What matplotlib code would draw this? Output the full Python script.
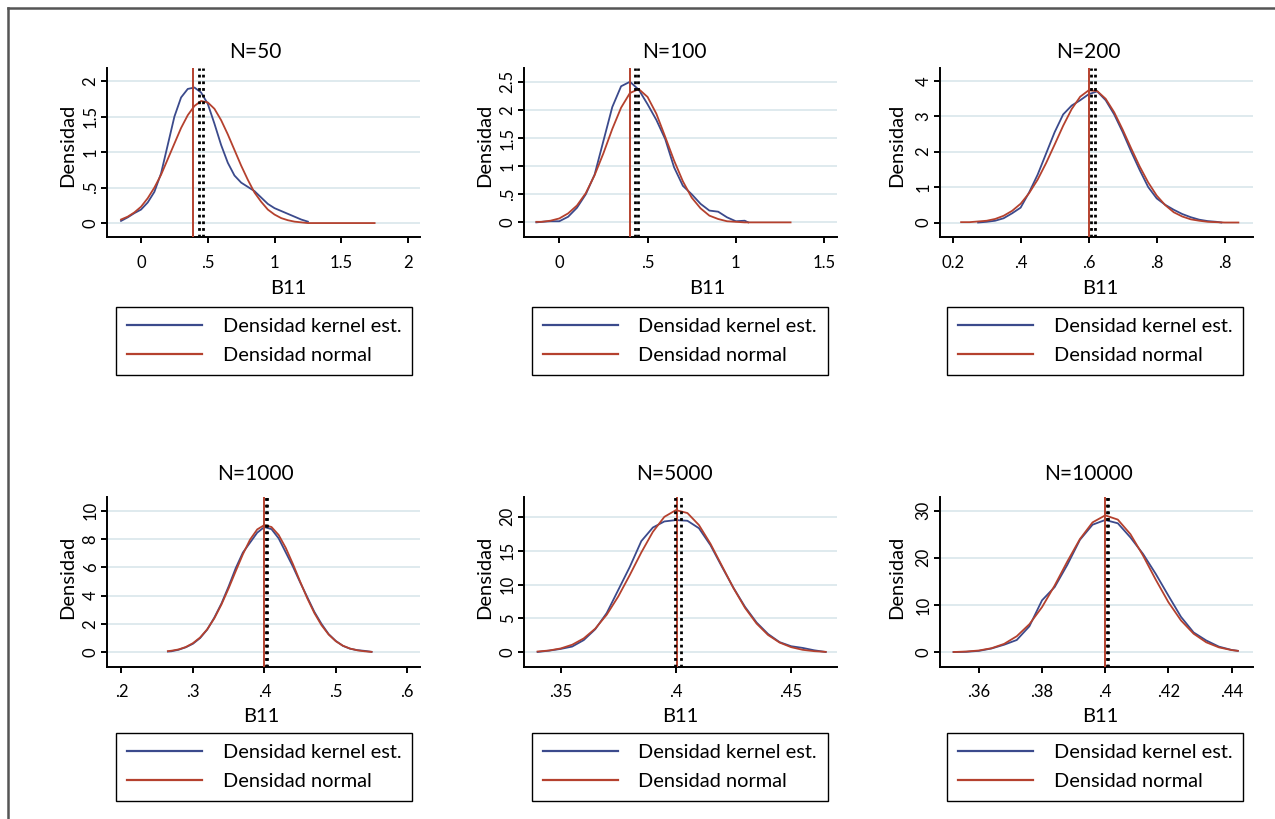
import numpy as np
import matplotlib
matplotlib.use('Agg')
import matplotlib.pyplot as plt
from matplotlib.lines import Line2D

# Kernel density and normal density of B11 for six sample sizes
titles = ['N=50', 'N=100', 'N=200', 'N=1000', 'N=5000', 'N=10000']
legend_labels = ['Densidad kernel est.', 'Densidad normal']

# N=50
x50_k = [-0.15, -0.10, -0.05, 0.00, 0.05, 0.10, 0.15, 0.20, 0.25, 0.30, 0.35, 0.40, 0.45, 0.50, 0.55,
         0.60, 0.65, 0.70, 0.75, 0.80, 0.85, 0.90, 0.95, 1.00, 1.05, 1.10, 1.15, 1.20, 1.25]
k50 = [0.03, 0.08, 0.14, 0.19, 0.29, 0.44, 0.70, 1.10, 1.50, 1.77, 1.89, 1.91, 1.84, 1.68, 1.40,
       1.10, 0.85, 0.67, 0.57, 0.51, 0.45, 0.36, 0.27, 0.21, 0.17, 0.13, 0.09, 0.05, 0.02]
x50_n = [-0.15, -0.10, -0.05, 0.00, 0.05, 0.10, 0.15, 0.20, 0.25, 0.30, 0.35, 0.40, 0.45, 0.50, 0.55,
         0.60, 0.65, 0.70, 0.75, 0.80, 0.85, 0.90, 0.95, 1.00, 1.05, 1.10, 1.15, 1.20, 1.25, 1.50, 1.75]
n50 = [0.05, 0.09, 0.15, 0.23, 0.35, 0.50, 0.68, 0.90, 1.12, 1.34, 1.52, 1.65, 1.72, 1.70, 1.61,
       1.45, 1.25, 1.03, 0.81, 0.61, 0.43, 0.30, 0.19, 0.12, 0.07, 0.04, 0.02, 0.01, 0.00, 0.00, 0.00]

# N=100
x100_k = [-0.13, -0.10, -0.05, 0.00, 0.05, 0.10, 0.15, 0.20, 0.25, 0.30, 0.35, 0.40, 0.45, 0.50,
          0.55, 0.60, 0.65, 0.70, 0.75, 0.80, 0.85, 0.90, 0.95, 1.00, 1.05, 1.07]
k100 = [0.00, 0.01, 0.02, 0.02, 0.10, 0.26, 0.50, 0.85, 1.45, 2.05, 2.42, 2.50, 2.36, 2.10,
        1.82, 1.48, 0.98, 0.65, 0.50, 0.33, 0.21, 0.19, 0.09, 0.02, 0.03, 0.00]
x100_n = [-0.13, -0.10, -0.05, 0.00, 0.05, 0.10, 0.15, 0.20, 0.25, 0.30, 0.35, 0.40, 0.45, 0.50,
          0.55, 0.60, 0.65, 0.70, 0.75, 0.80, 0.85, 0.90, 0.95, 1.00, 1.05, 1.31]
n100 = [0.01, 0.01, 0.03, 0.07, 0.16, 0.30, 0.52, 0.84, 1.23, 1.66, 2.04, 2.30, 2.37, 2.23,
        1.93, 1.52, 1.10, 0.73, 0.44, 0.25, 0.12, 0.06, 0.02, 0.01, 0.00, 0.00]

# N=200
x200_k = [0.275, 0.300, 0.325, 0.350, 0.375, 0.400, 0.425, 0.450, 0.475, 0.500, 0.525, 0.550, 0.575,
          0.600, 0.625, 0.650, 0.675, 0.700, 0.725, 0.750, 0.775, 0.800, 0.825, 0.850, 0.875, 0.900,
          0.925, 0.950, 0.975, 0.990]
k200 = [0.00, 0.02, 0.05, 0.12, 0.26, 0.42, 0.85, 1.35, 1.95, 2.55, 3.05, 3.30, 3.45,
        3.62, 3.70, 3.45, 3.05, 2.55, 2.00, 1.48, 1.00, 0.68, 0.50, 0.36, 0.24, 0.15,
        0.08, 0.04, 0.02, 0.00]
x200_n = [0.225, 0.250, 0.275, 0.300, 0.325, 0.350, 0.375, 0.400, 0.425, 0.450, 0.475, 0.500, 0.525,
          0.550, 0.575, 0.600, 0.625, 0.650, 0.675, 0.700, 0.725, 0.750, 0.775, 0.800, 0.825, 0.850,
          0.875, 0.900, 0.925, 0.950, 0.975, 1.000, 1.040]
n200 = [0.01, 0.01, 0.03, 0.05, 0.10, 0.19, 0.33, 0.53, 0.83, 1.21, 1.68, 2.20, 2.73,
        3.20, 3.55, 3.73, 3.71, 3.49, 3.11, 2.62, 2.09, 1.58, 1.13, 0.76, 0.49, 0.29,
        0.17, 0.09, 0.05, 0.02, 0.01, 0.00, 0.00]

# N=1000
x1000 = [0.265, 0.27, 0.28, 0.29, 0.30, 0.31, 0.32, 0.33, 0.34, 0.35, 0.36, 0.37, 0.38, 0.39, 0.40,
         0.41, 0.42, 0.43, 0.44, 0.45, 0.46, 0.47, 0.48, 0.49, 0.50, 0.51, 0.52, 0.53, 0.54, 0.55]
k1000 = [0.05, 0.07, 0.18, 0.35, 0.60, 1.00, 1.60, 2.45, 3.45, 4.65, 5.95, 7.05, 7.75, 8.45, 8.85,
         8.70, 8.05, 7.05, 6.05, 4.95, 3.90, 2.85, 2.00, 1.28, 0.80, 0.45, 0.25, 0.15, 0.10, 0.03]
n1000 = [0.08, 0.11, 0.20, 0.37, 0.64, 1.04, 1.62, 2.40, 3.38, 4.52, 5.74, 6.93, 7.96, 8.68, 8.99,
         8.85, 8.29, 7.37, 6.23, 5.00, 3.82, 2.77, 1.91, 1.25, 0.78, 0.46, 0.26, 0.14, 0.07, 0.03]

# N=5000
x5000 = [0.340, 0.345, 0.350, 0.355, 0.360, 0.365, 0.370, 0.375, 0.380, 0.385, 0.390, 0.395, 0.400,
         0.405, 0.410, 0.415, 0.420, 0.425, 0.430, 0.435, 0.440, 0.445, 0.450, 0.455, 0.460, 0.465]
k5000 = [0.05, 0.25, 0.50, 0.85, 1.80, 3.40, 5.80, 9.20, 12.60, 16.40, 18.40, 19.30, 19.50,
         19.40, 18.30, 15.80, 12.60, 9.50, 6.70, 4.40, 2.70, 1.50, 0.90, 0.65, 0.30, 0.05]
n5000 = [0.12, 0.27, 0.57, 1.12, 2.05, 3.49, 5.55, 8.24, 11.40, 14.73, 17.76, 19.98, 20.97,
         20.54, 18.77, 16.01, 12.74, 9.46, 6.55, 4.24, 2.55, 1.44, 0.76, 0.37, 0.17, 0.07]

# N=10000
x10000 = [0.352, 0.356, 0.360, 0.364, 0.368, 0.372, 0.376, 0.380, 0.384, 0.388, 0.392, 0.396,
          0.400, 0.404, 0.408, 0.412, 0.416, 0.420, 0.424, 0.428, 0.432, 0.436, 0.440, 0.442]
k10000 = [0.05, 0.10, 0.30, 0.80, 1.60, 2.60, 5.50, 11.00, 13.80, 18.50, 23.80, 27.00,
          28.00, 27.30, 24.30, 20.80, 16.60, 12.00, 7.50, 4.20, 2.50, 1.20, 0.50, 0.30]
n10000 = [0.06, 0.16, 0.38, 0.86, 1.78, 3.40, 5.94, 9.56, 14.13, 19.20, 23.96, 27.49,
          28.98, 28.08, 24.99, 20.45, 15.38, 10.62, 6.74, 3.93, 2.11, 1.04, 0.47, 0.31]

# reference lines: true value (red) and the two dotted estimates
true_val = [0.39, 0.40, 0.60, 0.400, 0.4003, 0.4000]
dotted_val = [(0.435, 0.465), (0.428, 0.448), (0.606, 0.619), (0.402, 0.404), (0.3997, 0.4022), (0.4005, 0.4008)]

# axis ticks
xticks = [[0, 0.5, 1, 1.5, 2], [0, 0.5, 1, 1.5], [0.2, 0.4, 0.6, 0.8, 1.0],
          [0.2, 0.3, 0.4, 0.5, 0.6], [0.35, 0.40, 0.45], [0.36, 0.38, 0.40, 0.42, 0.44]]
xticklabels = [['0', '.5', '1', '1.5', '2'], ['0', '.5', '1', '1.5'], ['0.2', '.4', '.6', '.8', '.8'],
               ['.2', '.3', '.4', '.5', '.6'], ['.35', '.4', '.45'], ['.36', '.38', '.4', '.42', '.44']]
yticks = [[0, 0.5, 1, 1.5, 2], [0, 0.5, 1, 1.5, 2, 2.5], [0, 1, 2, 3, 4],
          [0, 2, 4, 6, 8, 10], [0, 5, 10, 15, 20], [0, 10, 20, 30]]
yticklabels = [['0', '.5', '1', '1.5', '2'], ['0', '.5', '1', '1.5', '2', '2.5'], ['0', '1', '2', '3', '4'],
               ['0', '2', '4', '6', '8', '10'], ['0', '5', '10', '15', '20'], ['0', '10', '20', '30']]
xlims = [(-0.255, 2.09), (-0.20, 1.573), (0.163, 1.083), (0.1798, 0.6178), (0.3341, 0.4699), (0.3477, 0.4468)]
ylims = [(-0.202, 2.185), (-0.267, 2.745), (-0.42, 4.36), (-1.02, 10.95), (-2.12, 22.86), (-3.05, 32.8)]

kde_x = [x50_k, x100_k, x200_k, x1000, x5000, x10000]
kde_y = [k50, k100, k200, k1000, k5000, k10000]
norm_x = [x50_n, x100_n, x200_n, x1000, x5000, x10000]
norm_y = [n50, n100, n200, n1000, n5000, n10000]

plt.rcParams['font.family'] = ['Lato', 'DejaVu Sans']

W, H = 1275, 819
fig = plt.figure(figsize=(W / 100, H / 100), dpi=100)


def fx(px):
    return px / W


def fy(py):
    return 1 - py / H


# layout in pixels
col_left = [107, 524, 940]
col_w = 313
row_top = [68, 497.3]
row_h = 169.4
title_x = [255, 674, 1088]
title_y = [52, 474]
ylab_x = [67.5, 485, 897]
ylab_y = [145, 577]
xlab_pos = [(288, 288), (707, 288), (1100, 288), (261, 716), (680, 716), (1100, 716)]
leg_left = [116, 531.7, 946.7]
leg_w = 296.5
leg_top = [307, 733]

blue = '#3b4a8c'
red = '#b5412e'

for i in range(6):
    r, c = divmod(i, 3)
    ax = fig.add_axes([fx(col_left[c]), fy(row_top[r] + row_h), col_w / W, row_h / H])
    ax.set_axisbelow(True)
    ax.yaxis.grid(True, color='#d6e4ea', lw=1.1)

    kl, = ax.plot(kde_x[i], kde_y[i], color=blue, lw=1.3, zorder=2)
    nl, = ax.plot(norm_x[i], norm_y[i], color=red, lw=1.3, zorder=2.5)
    ax.axvline(true_val[i], color=red, lw=1.4, zorder=3)
    for v in dotted_val[i]:
        ax.axvline(v, color='black', lw=2.0, linestyle=(0, (1.0, 1.4)), zorder=4)

    ax.set_xlim(*xlims[i])
    ax.set_ylim(*ylims[i])
    ax.set_xticks(xticks[i])
    ax.set_xticklabels(xticklabels[i])
    ax.set_yticks(yticks[i])
    ax.set_yticklabels(yticklabels[i], rotation=90, va='center')

    for side in ['top', 'right']:
        ax.spines[side].set_visible(False)
    for side in ['left', 'bottom']:
        ax.spines[side].set_linewidth(1.4)
        ax.spines[side].set_color('black')
    ax.tick_params(axis='both', direction='out', length=4.5, width=1.4, labelsize=12, colors='black')
    ax.tick_params(axis='x', pad=8)
    ax.tick_params(axis='y', pad=1.5)

    fig.text(fx(title_x[c]), fy(title_y[r]), titles[i], ha='center', va='center', fontsize=15)
    fig.text(fx(ylab_x[c]), fy(ylab_y[r]), 'Densidad', rotation=90, ha='center', va='center', fontsize=14.5)
    fig.text(fx(xlab_pos[i][0]), fy(xlab_pos[i][1]), 'B11', ha='center', va='center', fontsize=14.5)

    leg = ax.legend([kl, nl], legend_labels, loc='upper left',
                    bbox_to_anchor=(fx(leg_left[c]), fy(leg_top[r]) - 0.01, leg_w / W, 0.01),
                    bbox_transform=fig.transFigure, mode='expand', borderaxespad=0,
                    fancybox=False, framealpha=1, edgecolor='black', fontsize=14.4,
                    handlelength=3.75, handletextpad=1.05, borderpad=0.54, labelspacing=0.6)
    leg.get_frame().set_linewidth(1.0)
    for line in leg.get_lines():
        line.set_linewidth(1.6)

# outer frame (top and left edges visible in the original)
fig.add_artist(Line2D([fx(7.5), fx(7.5)], [fy(8), 0], transform=fig.transFigure, color='#555555', lw=1.8))
fig.add_artist(Line2D([fx(7.5), 1], [fy(8), fy(8)], transform=fig.transFigure, color='#555555', lw=1.8))

fig.savefig('out.png', dpi=100)
